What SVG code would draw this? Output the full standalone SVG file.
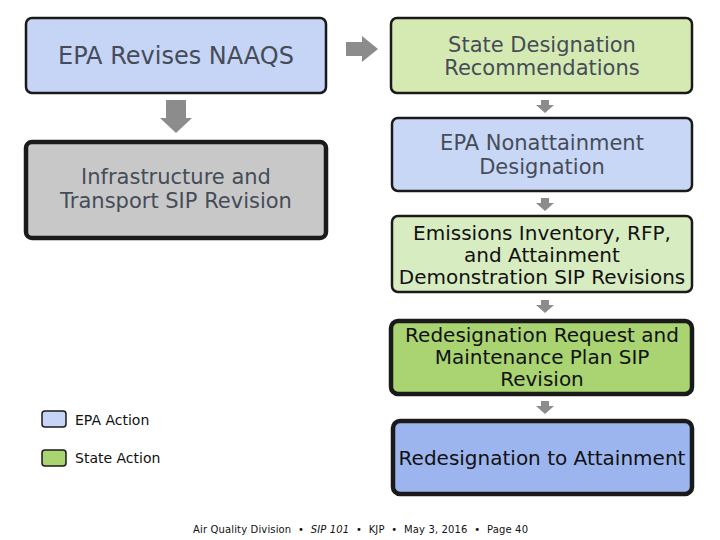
<svg xmlns="http://www.w3.org/2000/svg" width="720" height="540" viewBox="0 0 720 540">
<style>
.t{font-family:"DejaVu Sans",Verdana,sans-serif;font-size:20px;fill:#111;text-anchor:middle}
.g{fill:#454c58;font-size:21px}
.b{stroke:#1a1a1a;stroke-width:2.5}
.h{stroke:#1a1a1a;stroke-width:4.5}
.a{fill:#8c8c8c}
.l{font-family:"DejaVu Sans",Verdana,sans-serif;font-size:14px;fill:#111}
.f{font-family:"DejaVu Sans",Verdana,sans-serif;font-size:10px;fill:#111;white-space:pre}
</style>
<rect width="720" height="540" fill="#fff"/>
<g id="connectors">
<polygon class="a" points="346,42 362,42 362,36 378,49 362,62 362,56 346,56"/>
<polygon class="a" points="166,100 186,100 186,118 192,118 176,133 160,118 166,118"/>
<polygon class="a" points="541,100 549,100 549,105 554,105 545,113 536,105 541,105"/>
<polygon class="a" points="541,198 549,198 549,203 554,203 545,211 536,203 541,203"/>
<polygon class="a" points="541,300 549,300 549,305 554,305 545,313 536,305 541,305"/>
<polygon class="a" points="541,401 549,401 549,406 554,406 545,414 536,406 541,406"/>
</g>
<g id="n1"><rect class="b" x="26" y="18" width="300" height="75" rx="6" fill="#c6d4f6"/><text class="t g" x="176" y="64" style="font-size:24px">EPA Revises NAAQS</text></g>
<g id="n2"><rect class="b" x="391" y="18" width="301" height="75" rx="6" fill="#d5eab2"/><text class="t g" x="542" y="52">State Designation</text><text class="t g" x="542" y="75">Recommendations</text></g>
<g id="n3"><rect class="b" x="392" y="118" width="300" height="73" rx="6" fill="#c9d7f6"/><text class="t g" x="542" y="150">EPA Nonattainment</text><text class="t g" x="542" y="174">Designation</text></g>
<g id="n4"><rect class="h" x="26" y="142" width="300" height="96" rx="6" fill="#c8c8c8"/><text class="t g" x="176" y="184">Infrastructure and</text><text class="t g" x="176" y="208">Transport SIP Revision</text></g>
<g id="n5"><rect class="b" x="392" y="216" width="300" height="76" rx="6" fill="#d8ecc2"/><text class="t" x="542" y="240">Emissions Inventory, RFP,</text><text class="t" x="542" y="262">and Attainment</text><text class="t" x="542" y="284">Demonstration SIP Revisions</text></g>
<g id="n6"><rect class="h" x="391" y="321" width="301" height="73" rx="7" fill="#a9d471"/><text class="t" x="542" y="342">Redesignation Request and</text><text class="t" x="542" y="364">Maintenance Plan SIP</text><text class="t" x="542" y="386">Revision</text></g>
<g id="n7"><rect class="h" x="393" y="421" width="299" height="73" rx="7" fill="#9db5ee"/><text class="t" x="542" y="465">Redesignation to Attainment</text></g>
<g id="legend">
<rect x="42" y="411" width="24" height="16" rx="3" fill="#c6d4f6" stroke="#1a1a1a" stroke-width="1.5"/>
<text class="l" x="75" y="425">EPA Action</text>
<rect x="42" y="450" width="24" height="16" rx="3" fill="#a9d471" stroke="#1a1a1a" stroke-width="1.5"/>
<text class="l" x="75" y="463">State Action</text>
</g>
<text class="f" x="193" y="533" textLength="335" lengthAdjust="spacing">Air Quality Division  •  <tspan font-style="italic">SIP 101</tspan>  •  KJP  •  May 3, 2016  •  Page 40</text>
</svg>
